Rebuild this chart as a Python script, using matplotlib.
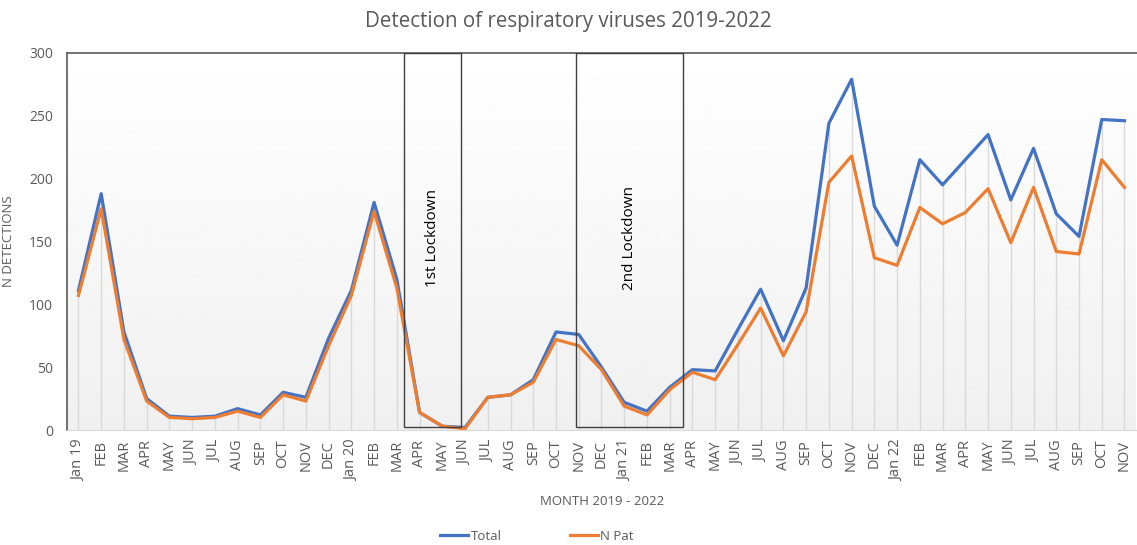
import numpy as np
import matplotlib
matplotlib.use("Agg")
import matplotlib.pyplot as plt
from matplotlib.patches import Rectangle

plt.rcParams['font.family'] = ['Open Sans', 'DejaVu Sans']

# Month labels, Jan 2019 - Nov 2022
months = ["Jan 19", "FEB", "MAR", "APR", "MAY", "JUN", "JUL", "AUG", "SEP", "OCT", "NOV", "DEC",
          "Jan 20", "FEB", "MAR", "APR", "MAY", "JUN", "JUL", "AUG", "SEP", "OCT", "NOV", "DEC",
          "Jan 21", "FEB", "MAR", "APR", "MAY", "JUN", "JUL", "AUG", "SEP", "OCT", "NOV", "DEC",
          "Jan 22", "FEB", "MAR", "APR", "MAY", "JUN", "JUL", "AUG", "SEP", "OCT", "NOV"]

total = [111, 188, 78, 25, 11, 10, 11, 17, 12, 30, 26, 73,
         111, 181, 120, 14, 3, 2, 26, 28, 40, 78, 76, 50,
         22, 15, 34, 48, 47, 80, 112, 71, 113, 244, 279, 178,
         147, 215, 195, 215, 235, 183, 224, 172, 154, 247, 246]

n_pat = [107, 176, 72, 23, 10, 9, 10, 15, 10, 28, 23, 67,
         107, 174, 113, 14, 3, 1, 26, 28, 38, 72, 67, 48,
         19, 12, 32, 46, 40, 68, 97, 59, 94, 197, 218, 137,
         131, 177, 164, 173, 192, 149, 193, 142, 140, 215, 193]

# lockdown periods as (start, end) on the month axis
lockdowns = [(14.3, 16.83, "1st Lockdown"), (21.9, 26.6, "2nd Lockdown")]

x = np.arange(len(months))

fig = plt.figure(figsize=(11.37, 5.45), dpi=100)
ax = fig.add_axes([0.059, 0.211, 0.941, 0.692])

# Excel-like gradient background
grad = np.linspace(1.0, 0.94, 256).reshape(-1, 1)
ax.imshow(grad, cmap="gray", vmin=0, vmax=1, extent=[-0.5, len(months) - 0.5, 0, 300],
          aspect="auto", zorder=0)

# drop lines
ax.vlines(x, 0, np.maximum(total, n_pat), color="#D9D9D9", lw=1, zorder=1)

ax.plot(x, total, color="#4472C4", lw=2.3, label="Total", zorder=3)
ax.plot(x, n_pat, color="#ED7D31", lw=2.3, label="N Pat", zorder=4)

for x0, x1, name in lockdowns:
    ax.add_patch(Rectangle((x0, 2), x1 - x0, 298, fill=False, edgecolor="#404040", lw=1, zorder=5))
    ax.text((x0 + x1) / 2, 153, name, rotation=90, ha="center", va="center",
            fontsize=11, color="#000000", zorder=6)

ax.set_xlim(-0.5, len(months) - 0.45)
ax.set_ylim(0, 300)
ax.set_yticks([0, 50, 100, 150, 200, 250, 300])
ax.set_xticks(x)
ax.set_xticklabels(months, rotation=90, fontsize=10.5, color="#595959")
ax.tick_params(axis="y", length=0, labelsize=10, labelcolor="#595959", pad=10)
ax.tick_params(axis="x", length=0, pad=7)

for s in ["left", "top"]:
    ax.spines[s].set_color("#595959")
    ax.spines[s].set_linewidth(1.2)
ax.spines["right"].set_visible(False)
ax.spines["bottom"].set_color("#D9D9D9")

ax.set_ylabel("N DETECTIONS", fontsize=9.5, color="#595959", labelpad=10)
ax.set_xlabel("MONTH 2019 - 2022", fontsize=9.5, color="#595959", labelpad=10)

fig.suptitle("Detection of respiratory viruses 2019-2022", fontsize=14.8, color="#595959", y=0.98)

ax.legend(loc="center", bbox_to_anchor=(537 / 1137, 0.016), bbox_transform=fig.transFigure,
          ncol=2, frameon=False, fontsize=9.5, handlelength=2.1, handletextpad=0.2,
          columnspacing=5.2, labelcolor="#595959")

fig.savefig("out.png", dpi=100)
